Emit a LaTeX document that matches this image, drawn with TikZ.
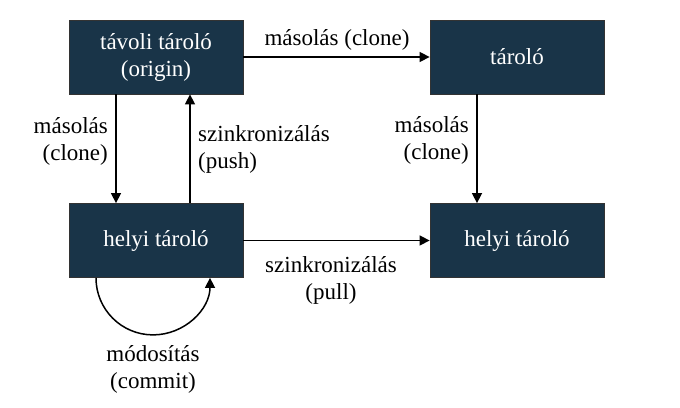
\documentclass[tikz,border=0pt]{standalone}
\usepackage{fontspec}
\setmainfont{Liberation Serif}
\newfontfamily\tnr{Liberation Serif}
\usetikzlibrary{arrows.meta}
\definecolor{boxfill}{RGB}{25,52,72}
\begin{document}
\begin{tikzpicture}[x=1pt,y=1pt,
  font=\tnr\fontsize{23}{27}\selectfont,
  repo/.style={rectangle,fill=boxfill,draw=black!80,line width=0.8pt,minimum width=174pt,minimum height=74pt,text=white,align=center,inner sep=0pt},
  conn/.style={line width=1.5pt,-{Triangle[length=10pt,width=10pt]}},
  lbl/.style={inner sep=0pt}]
\useasboundingbox (0,0) rectangle (680,407);
\node[repo] (A) at (156,350) {távoli tároló\\(origin)};
\node[repo] (B) at (517,350) {tároló};
\node[repo] (C) at (156,166.5) {helyi tároló};
\node[repo] (D) at (517,166.5) {helyi tároló};
\draw[conn] (A.east) -- (B.west);
\draw[conn] (C.east) -- (D.west);
\draw[conn] ([xshift=-40pt]A.south) -- ([xshift=-40pt]C.north);
\draw[conn] ([xshift=34pt]C.north) -- ([xshift=34pt]A.south);
\draw[conn] ([xshift=-40pt]B.south) -- ([xshift=-40pt]D.north);
\coordinate (ls) at ([xshift=-60pt]C.south);
\draw[conn] (ls) arc[start angle=180,end angle=360,radius=57pt] coordinate (le);
\node[lbl] (t1) at (337,367) {másolás (clone)};
\node[lbl,anchor=east,align=right] (t2) at (108,266) {másolás\\(clone)};
\node[lbl,anchor=west,align=left] (t3) at (198,258) {szinkronizálás\\(push)};
\node[lbl,anchor=east,align=right] (t4) at (469,267) {másolás\\(clone)};
\node[lbl,align=center] (t5) at (331,127) {szinkronizálás\\(pull)};
\node[lbl,align=center] (t6) at (153,38) {módosítás\\(commit)};
\end{tikzpicture}
\end{document}
